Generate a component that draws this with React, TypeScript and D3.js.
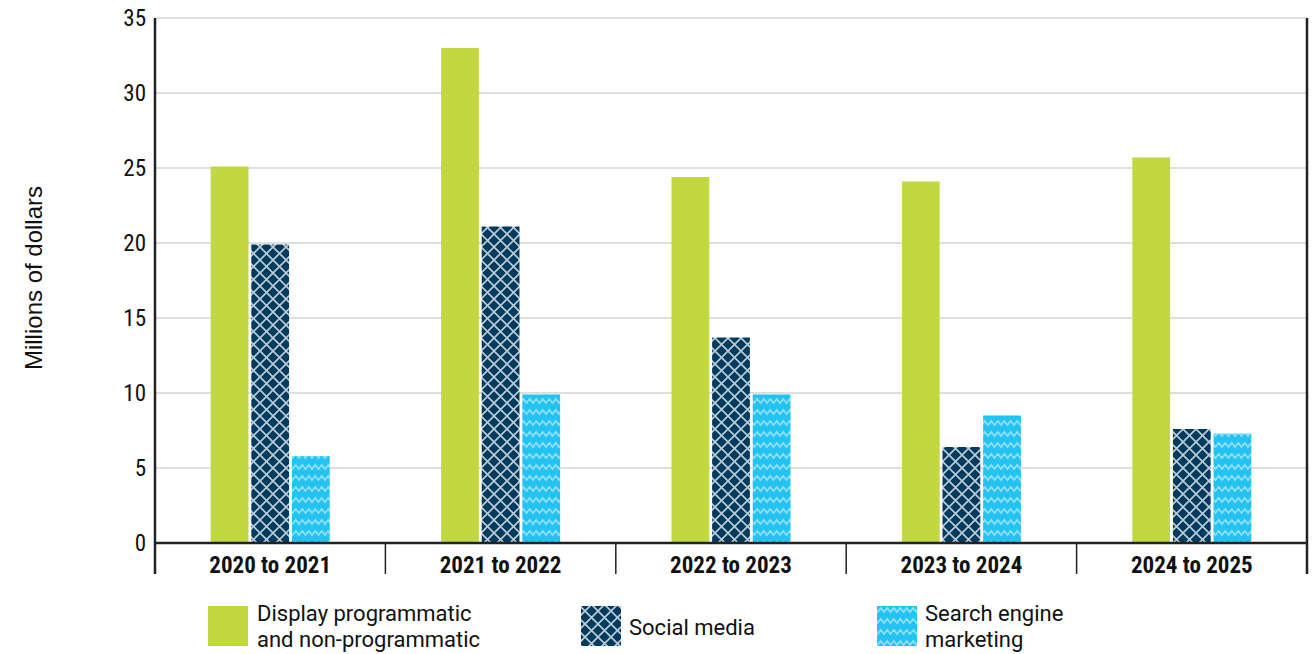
import React from "react";
import * as d3 from "d3";

const categories = ["2020 to 2021", "2021 to 2022", "2022 to 2023", "2023 to 2024", "2024 to 2025"];
const seriesNames = ["Display programmatic and non-programmatic", "Social media", "Search engine marketing"];
const display = [25.1, 33.0, 24.4, 24.1, 25.7];
const social = [19.9, 21.1, 13.7, 6.4, 7.6];
const search = [5.8, 9.9, 9.9, 8.5, 7.3];
const yTicks = [0, 5, 10, 15, 20, 25, 30, 35];

const W = 1314, H = 654;
const left = 155, right = 1307, top = 18, bottom = 543;

export default function App() {
  const x = d3.scaleBand<string>().domain(categories).range([left, right]).padding(0);
  const y = d3.scaleLinear().domain([0, 35]).range([bottom, top]);
  const inner = d3.scaleBand<string>().domain(["a", "b", "c"]).range([0, 119]).paddingInner(0.07);
  const groupOffset = (x.bandwidth() - 119) / 2;
  const series = [display, social, search];
  const fills = ["#c2d840", "url(#cross)", "url(#zig)"];
  const keys = ["a", "b", "c"];
  const condensed = "'Liberation Sans Narrow', 'Roboto Condensed', 'Arial Narrow', sans-serif";
  const boundaries = d3.range(categories.length + 1).map((i) => left + i * x.step());

  return (
    <svg width={W} height={H} style={{ position: "absolute", left: 0, top: 0 }}>
      <defs>
        <pattern id="cross" patternUnits="userSpaceOnUse" width={13} height={13}>
          <rect width={13} height={13} fill="#003a5c" />
          <path d="M0,0 L13,13 M13,0 L0,13" stroke="#b9cbd8" strokeWidth={1.7} />
        </pattern>
        <pattern id="zig" patternUnits="userSpaceOnUse" width={13} height={11}>
          <rect width={13} height={11} fill="#22c3f2" />
          <path d="M-3.25,3 L0,7 L3.25,3 L6.5,7 L9.75,3 L13,7 L16.25,3" stroke="#8fdcf6" strokeWidth={1.8} fill="none" />
        </pattern>
      </defs>
      {yTicks.map((t) => (
        <g key={t}>
          {t > 0 && <line x1={left} x2={right} y1={y(t)} y2={y(t)} stroke="#d4d4d4" strokeWidth={1.3} />}
          <text x={146} y={y(t)} dy="0.36em" textAnchor="end" fontFamily={condensed} fontSize={23} fill="#111">{t}</text>
        </g>
      ))}
      {categories.map((c, i) => (
        <g key={c}>
          {series.map((s, j) => (
            <rect key={j} x={(x(c) as number) + groupOffset + (inner(keys[j]) as number)} y={y(s[i])} width={inner.bandwidth()} height={y(0) - y(s[i])} fill={fills[j]} />
          ))}
          <text x={(x(c) as number) + x.bandwidth() / 2} y={573} textAnchor="middle" fontFamily={condensed} fontWeight="bold" fontSize={23} fill="#111">{c}</text>
        </g>
      ))}
      {boundaries.map((b, i) => (
        <line key={i} x1={b} x2={b} y1={i === 0 ? top : i === boundaries.length - 1 ? top : bottom} y2={574} stroke="#222" strokeWidth={i === 0 || i === boundaries.length - 1 ? 2.5 : 1.5} />
      ))}
      <line x1={left} x2={right} y1={bottom} y2={bottom} stroke="#222" strokeWidth={2.5} />
      <text transform={`translate(42,278) rotate(-90)`} textAnchor="middle" fontFamily="'Liberation Sans', Arial, sans-serif" fontSize={24} fill="#111">Millions of dollars</text>
      <g fontFamily="Roboto, sans-serif" fontSize={22} fill="#111">
        <rect x={208} y={606} width={40} height={40} fill={fills[0]} />
        <text x={257} y={621}>
          <tspan x={257} y={621}>Display programmatic</tspan>
          <tspan x={257} y={647}>and non-programmatic</tspan>
        </text>
        <rect x={581} y={606} width={40} height={40} fill={fills[1]} />
        <text x={629} y={635}>{seriesNames[1]}</text>
        <rect x={877} y={606} width={40} height={40} fill={fills[2]} />
        <text x={925} y={621}>
          <tspan x={925} y={621}>Search engine</tspan>
          <tspan x={925} y={647}>marketing</tspan>
        </text>
      </g>
    </svg>
  );
}
